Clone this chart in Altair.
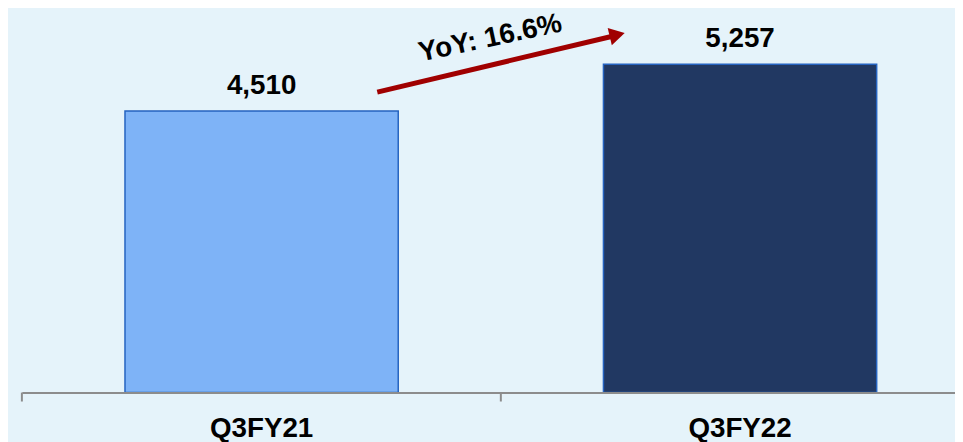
import altair as alt
import pandas as pd

# ---- data ----
periods = ["Q3FY21", "Q3FY22"]
values = [4510, 5257]
bar_colors = ["#7EB3F7", "#213862"]

yoy = (values[1] / values[0] - 1) * 100
yoy_label = f"YoY: {yoy:.1f}%"

df = pd.DataFrame({"period": periods, "value": values})

FONT = "Liberation Sans"
X_RANGE = [0, 966]
Y_DOMAIN = [0, 6130]

xband = alt.Scale(domain=periods, range=X_RANGE, paddingInner=0.4289, paddingOuter=0.2155)
yscale = alt.Scale(domain=Y_DOMAIN, nice=False, zero=True)

bars = alt.Chart(df).mark_bar(stroke="#2563C0", strokeWidth=1.5).encode(
    x=alt.X("period:N", scale=xband, sort=periods,
            axis=alt.Axis(title=None, ticks=False, domainColor="#8C8C8C", domainWidth=2,
                          labelFont=FONT, labelFontSize=28, labelFontWeight="bold",
                          labelColor="#000000", labelPadding=44, labelBaseline="alphabetic",
                          labelAngle=0, grid=False, zindex=1)),
    y=alt.Y("value:Q", scale=yscale, axis=None),
    color=alt.Color("period:N", scale=alt.Scale(domain=periods, range=bar_colors), legend=None),
)

labels = alt.Chart(df).mark_text(
    font=FONT, fontSize=28, fontWeight="bold", color="#000000",
    baseline="alphabetic", dy=-17
).encode(
    x=alt.X("period:N", scale=xband, sort=periods),
    y=alt.Y("value:Q", scale=yscale),
    text=alt.Text("value:Q", format=","),
)

main = alt.layer(bars, labels)

# ---- annotation (axis ticks at band boundaries, arrow + YoY text), in band units ----
tick_df = pd.DataFrame({"x": [0, 1, 2]})
arrow_df = pd.DataFrame({"x": [0.742], "x2": [1.231], "y": [4812], "y2": [5703]})
head_df = pd.DataFrame({"x": [1.243], "y": [5730]})
yoy_df = pd.DataFrame({"x": [0.978], "y": [5670], "t": [yoy_label]})

xq = alt.Scale(domain=[0, 2], range=X_RANGE, nice=False, zero=False)

ticks = alt.Chart(tick_df).mark_rule(color="#8C8C8C", strokeWidth=2).encode(
    x=alt.X("x:Q", scale=xq, axis=None),
    y=alt.datum(0, scale=yscale),
    y2=alt.value(395),
)
arrow = alt.Chart(arrow_df).mark_rule(color="#A00000", strokeWidth=5).encode(
    x=alt.X("x:Q", scale=xq, axis=None), x2="x2:Q",
    y=alt.Y("y:Q", scale=yscale), y2="y2:Q",
)
head = alt.Chart(head_df).mark_point(
    shape="triangle-right", filled=True, color="#A00000", size=320, angle=346.5, opacity=1
).encode(
    x=alt.X("x:Q", scale=xq, axis=None),
    y=alt.Y("y:Q", scale=yscale),
)
yoy_text = alt.Chart(yoy_df).mark_text(
    font=FONT, fontSize=28, fontWeight="bold", color="#000000",
    angle=348, align="center", baseline="middle"
).encode(
    x=alt.X("x:Q", scale=xq, axis=None),
    y=alt.Y("y:Q", scale=yscale),
    text="t:N",
)

annot = alt.layer(ticks, arrow, head, yoy_text)

chart = alt.layer(main, annot).resolve_scale(x="independent").properties(
    width=941, height=386,
    autosize=alt.AutoSizeParams(type="none"),
    padding={"left": 14, "top": 0, "right": 0, "bottom": 48},
    background="#E5F3FA",
).configure_view(stroke=None)

chart.save("out.html", embed_options={"renderer": "svg", "actions": False})
